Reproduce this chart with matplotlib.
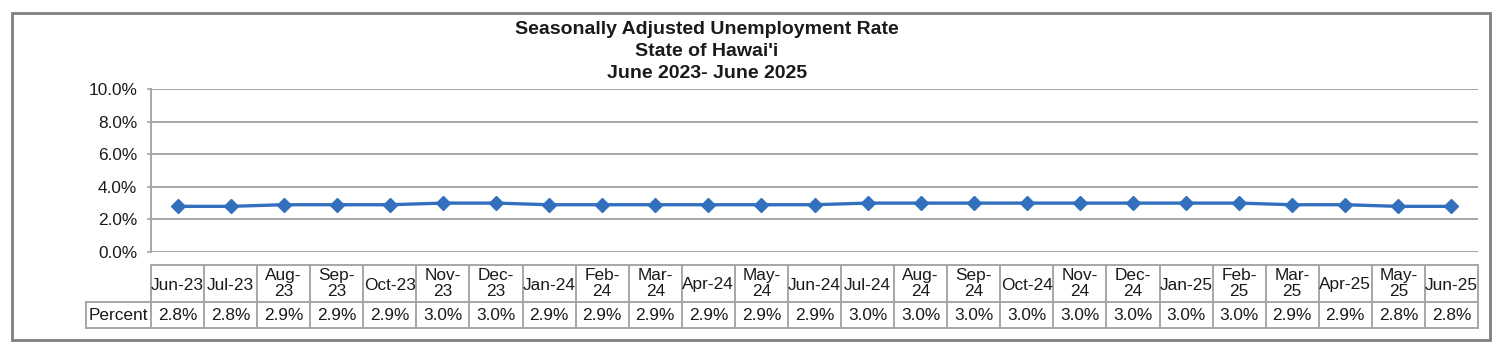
import matplotlib
matplotlib.use("Agg")
import matplotlib.pyplot as plt
from matplotlib.patches import Rectangle
from matplotlib.lines import Line2D
from matplotlib.ticker import FuncFormatter

plt.rcParams['font.family'] = ['Liberation Sans', 'DejaVu Sans']

# Monthly seasonally adjusted unemployment rate (%)
months = ["Jun-23", "Jul-23", "Aug-\n23", "Sep-\n23", "Oct-23", "Nov-\n23", "Dec-\n23",
          "Jan-24", "Feb-\n24", "Mar-\n24", "Apr-24", "May-\n24", "Jun-24", "Jul-24",
          "Aug-\n24", "Sep-\n24", "Oct-24", "Nov-\n24", "Dec-\n24", "Jan-25", "Feb-\n25",
          "Mar-\n25", "Apr-25", "May-\n25", "Jun-25"]
rates = [2.8, 2.8, 2.9, 2.9, 2.9, 3.0, 3.0, 2.9, 2.9, 2.9, 2.9, 2.9, 2.9, 3.0,
         3.0, 3.0, 3.0, 3.0, 3.0, 3.0, 3.0, 2.9, 2.9, 2.8, 2.8]
yticks = [0, 2, 4, 6, 8, 10]
row_label = "Percent"
title_lines = ["Seasonally Adjusted Unemployment Rate", "State of Hawai'i",
               "June 2023- June 2025"]

W, H = 1502, 348
fig = plt.figure(figsize=(W / 100, H / 100), dpi=100)
fig.patch.set_facecolor("white")

def fx(px):
    return px / W

def fy(py):
    return 1 - py / H

# plot area in pixel coordinates
L, R, T, B = 151, 1478, 89, 252
ax = fig.add_axes([fx(L), fy(B), fx(R) - fx(L), fy(T) - fy(B)])

grid_c = "#a6a6a6"
line_c = "#3270BE"
text_c = "#1a1a1a"
body_fs = 12.4
title_fs = 14

n = len(rates)
x = list(range(n))
ax.set_xlim(-0.5, n - 0.5)
ax.set_ylim(0, 10)
ax.set_yticks(yticks)
ax.yaxis.set_major_formatter(FuncFormatter(lambda v, p: f"{v:.1f}%"))
ax.set_xticks([])
ax.grid(axis="y", color=grid_c, linewidth=1.4)
ax.set_axisbelow(True)
for s in ["top", "right", "bottom"]:
    ax.spines[s].set_visible(False)
ax.spines["left"].set_color(grid_c)
ax.spines["left"].set_linewidth(1.4)
ax.tick_params(axis="y", length=3, width=1.2, color=grid_c, pad=7,
               labelsize=body_fs, labelcolor=text_c)

ax.plot(x, rates, color=line_c, linewidth=2.4, marker="D", markersize=7.5,
        markerfacecolor=line_c, markeredgecolor=line_c, clip_on=False, zorder=3)

# data table below the axis
row1_top, row1_bot, row2_bot = 265, 302, 328
label_left = 86
trans = ax.get_xaxis_transform()

def ay(py):
    return (B - py) / (B - T)

tbl_c = "#a6a6a6"
tlw = 1.4
# horizontal lines
for py in (row1_top, row1_bot, row2_bot):
    ax.add_line(Line2D([-0.5, n - 0.5], [ay(py)] * 2, transform=trans,
                       color=tbl_c, lw=tlw, clip_on=False))
# row-label cell lines (figure coords)
fig.add_artist(Line2D([fx(label_left), fx(L)], [fy(row1_bot)] * 2,
                      color=tbl_c, lw=tlw))
fig.add_artist(Line2D([fx(label_left), fx(L)], [fy(row2_bot)] * 2,
                      color=tbl_c, lw=tlw))
fig.add_artist(Line2D([fx(label_left)] * 2, [fy(row1_bot), fy(row2_bot)],
                      color=tbl_c, lw=tlw))
# vertical cell borders
for i in range(n + 1):
    ax.add_line(Line2D([i - 0.5] * 2, [ay(row1_top), ay(row2_bot)],
                       transform=trans, color=tbl_c, lw=tlw, clip_on=False))

for i, (m, v) in enumerate(zip(months, rates)):
    cy = 283.5 if "\n" in m else 285
    ax.text(i, ay(cy), m, transform=trans,
            ha="center", va="center", fontsize=body_fs, color=text_c,
            linespacing=1.12, clip_on=False)
    ax.text(i, ay(315.5), f"{v:.1f}%", transform=trans,
            ha="center", va="center", fontsize=body_fs, color=text_c, clip_on=False)

fig.text(fx((label_left + L) / 2), fy(315.5), row_label,
         ha="center", va="center", fontsize=body_fs, color=text_c)

# title
for k, t in enumerate(title_lines):
    fig.text(fx(707), fy(30 + 21.5 * k), t, ha="center", va="center",
             fontsize=title_fs, fontweight="bold", color=text_c)

# outer chart border
fig.add_artist(Rectangle((fx(12), fy(340)), fx(1490) - fx(12), fy(13) - fy(340),
                         fill=False, edgecolor="#808080", linewidth=2.0))

fig.savefig("out.png", dpi=100, facecolor="white")
